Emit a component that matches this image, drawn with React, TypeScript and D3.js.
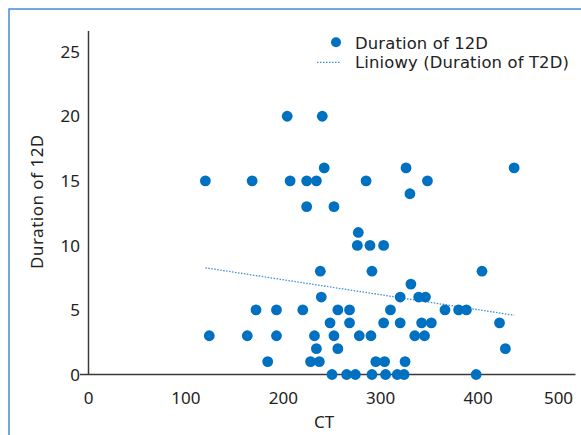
import * as d3 from "d3";
import React from "react";

// CT values and matching durations
const ct = [
  204, 240,
  242, 326, 437,
  120, 168, 207, 224, 234, 285, 348,
  330,
  224, 252,
  277,
  276, 289, 303,
  238, 291, 404,
  331,
  239, 320, 339, 346,
  172, 193, 220, 256, 268, 310, 366, 380, 388,
  248, 268, 303, 320, 342, 352, 422,
  124, 163, 193, 232, 252, 278, 290, 335, 345,
  234, 256, 428,
  184, 228, 237, 295, 304, 325,
  250, 265, 274, 291, 305, 317, 324, 398,
];
const duration = [
  20, 20,
  16, 16, 16,
  15, 15, 15, 15, 15, 15, 15,
  14,
  13, 13,
  11,
  10, 10, 10,
  8, 8, 8,
  7,
  6, 6, 6, 6,
  5, 5, 5, 5, 5, 5, 5, 5, 5,
  4, 4, 4, 4, 4, 4, 4,
  3, 3, 3, 3, 3, 3, 3, 3, 3,
  2, 2, 2,
  1, 1, 1, 1, 1, 1,
  0, 0, 0, 0, 0, 0, 0, 0,
];
const xTicks = [0, 100, 200, 300, 400, 500];
const yTicks = [0, 5, 10, 15, 20, 25];
const seriesName = "Duration of 12D";
const trendName = "Liniowy (Duration of T2D)";
const xTitle = "CT";
const yTitle = "Duration of 12D";

const W = 581;
const H = 435;
const FONT = "'Noto Sans', 'Open Sans', sans-serif";
const LEGEND_FONT = "'DejaVu Sans', sans-serif";
const BLUE = "#0070c0";

const App = () => {
  const ref = React.useRef<SVGSVGElement>(null);

  React.useEffect(() => {
    const svg = d3.select(ref.current);
    svg.selectAll("*").remove();

    const data = ct.map((c, i) => ({ x: c, y: duration[i] }));

    const x = d3.scaleLinear().domain([0, 500]).range([88.5, 575.5]);
    const y = d3.scaleLinear().domain([0, 25]).range([374.5, 51.7]);

    // outer frame (runs off the right and bottom edge)
    svg.append("rect")
      .attr("x", 9).attr("y", 9)
      .attr("width", 700).attr("height", 600)
      .attr("fill", "none")
      .attr("stroke", "#3f8fd8")
      .attr("stroke-width", 1.5);

    // axes lines
    svg.append("line")
      .attr("x1", 80).attr("x2", x(500))
      .attr("y1", y(0)).attr("y2", y(0))
      .attr("stroke", "#3a3a3a").attr("stroke-width", 1.5);
    svg.append("line")
      .attr("x1", x(0)).attr("x2", x(0))
      .attr("y1", 31).attr("y2", y(0))
      .attr("stroke", "#3a3a3a").attr("stroke-width", 1.5);

    // tick labels
    svg.append("g").selectAll("text")
      .data(xTicks)
      .enter().append("text")
      .attr("x", d => d === 500 ? x(d) - 17 : x(d))
      .attr("y", 404)
      .attr("text-anchor", "middle")
      .attr("font-family", FONT).attr("font-size", 17)
      .attr("fill", "#222")
      .text(d => d);
    svg.append("g").selectAll("text")
      .data(yTicks)
      .enter().append("text")
      .attr("x", 80)
      .attr("y", d => y(d))
      .attr("dy", "0.36em")
      .attr("text-anchor", "end")
      .attr("font-family", FONT).attr("font-size", 17)
      .attr("fill", "#222")
      .text(d => d);

    // axis titles
    svg.append("text")
      .attr("x", 324).attr("y", 428)
      .attr("text-anchor", "middle")
      .attr("font-family", FONT).attr("font-size", 17)
      .attr("fill", "#222")
      .text(xTitle);
    svg.append("text")
      .attr("transform", "translate(43,269) rotate(-90)")
      .attr("text-anchor", "start")
      .attr("font-family", FONT).attr("font-size", 17)
      .attr("letter-spacing", 0.5)
      .attr("fill", "#222")
      .text(yTitle);

    // linear trend (least squares) over the data range
    const mx = d3.mean(data, d => d.x) as number;
    const my = d3.mean(data, d => d.y) as number;
    const sxy = d3.sum(data, d => (d.x - mx) * (d.y - my));
    const sxx = d3.sum(data, d => (d.x - mx) * (d.x - mx));
    const slope = sxy / sxx;
    const icpt = my - slope * mx;
    const [x0, x1] = d3.extent(data, d => d.x) as [number, number];
    svg.append("line")
      .attr("x1", x(x0)).attr("y1", y(icpt + slope * x0))
      .attr("x2", x(x1)).attr("y2", y(icpt + slope * x1))
      .attr("stroke", "#3d8fd6")
      .attr("stroke-width", 1.3)
      .attr("stroke-dasharray", "1.5,1.5");

    // points
    svg.append("g").selectAll("circle")
      .data(data)
      .enter().append("circle")
      .attr("cx", d => x(d.x))
      .attr("cy", d => y(d.y))
      .attr("r", 5.4)
      .attr("fill", BLUE);

    // legend
    const lg = svg.append("g");
    lg.append("circle")
      .attr("cx", 336).attr("cy", 42.3).attr("r", 5)
      .attr("fill", BLUE);
    lg.append("text")
      .attr("x", 355).attr("y", 48.5)
      .attr("font-family", LEGEND_FONT).attr("font-size", 16.4)
      .attr("letter-spacing", 0.15)
      .attr("fill", "#222")
      .text(seriesName);
    lg.append("line")
      .attr("x1", 317).attr("x2", 340)
      .attr("y1", 62.3).attr("y2", 62.3)
      .attr("stroke", "#3d8fd6")
      .attr("stroke-width", 1.3)
      .attr("stroke-dasharray", "1.5,1.5");
    lg.append("text")
      .attr("x", 355).attr("y", 68.2)
      .attr("font-family", LEGEND_FONT).attr("font-size", 16.4)
      .attr("letter-spacing", 0.15)
      .attr("fill", "#222")
      .text(trendName);
  }, []);

  return (
    <svg
      ref={ref}
      width={W}
      height={H}
      style={{ position: "absolute", left: 0, top: 0, background: "#fff" }}
    />
  );
};

export default App;
